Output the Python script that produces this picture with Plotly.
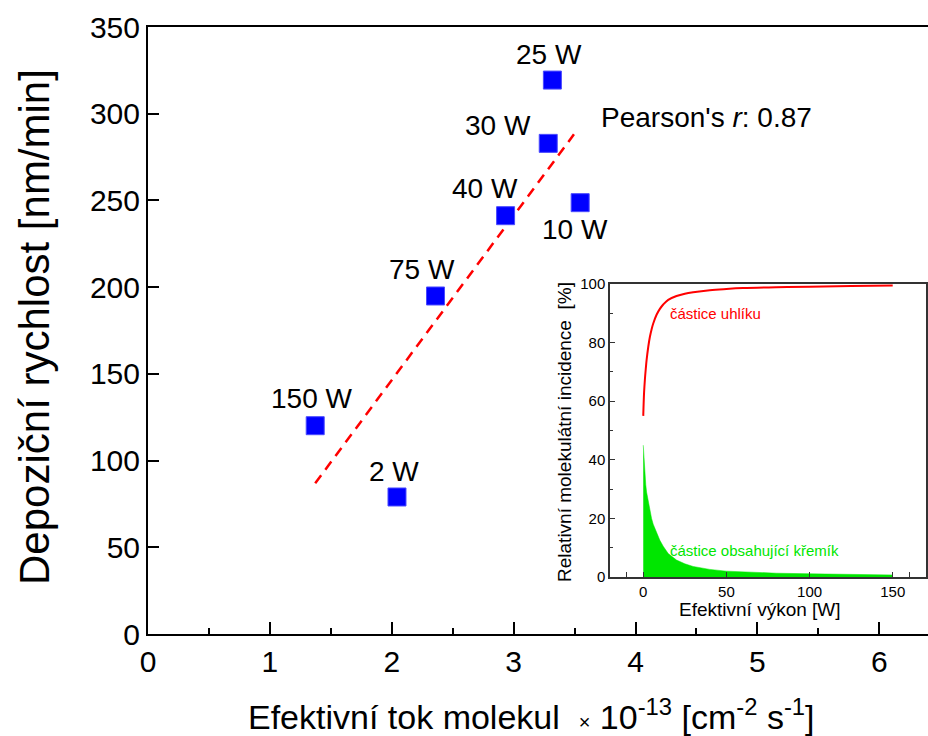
import plotly.graph_objects as go

# ---- main scatter data ----
power_labels = ["25 W", "30 W", "40 W", "10 W", "75 W", "150 W", "2 W"]
flux = [3.318, 3.284, 2.934, 3.546, 2.359, 1.372, 2.043]
rate = [319.4, 282.9, 241.2, 248.7, 194.9, 120.1, 79.0]
label_dx = [-3, -50, -21, -5, -14, -4, -3]
label_dy = [26, 18, 27, -27, 26, 27, 25]

fit_x = [1.372, 3.495]
fit_y = [86.9, 288.1]
pearson_r = 0.87

# ---- inset data ----
power_w = [0, 0.5, 1, 1.5, 2, 3, 4, 5, 6, 8, 10, 12, 15, 20, 25, 30, 40, 50, 60, 80, 100, 125, 150]
carbon = [55, 63, 67.5, 71, 74, 78.5, 82, 84.5, 86.5, 89.5, 91.5, 93, 94.6, 95.9, 96.7, 97.2, 97.9, 98.3, 98.6, 98.9, 99.1, 99.3, 99.5]
silicon = [45, 39, 35, 31.5, 29, 25.5, 22.5, 20, 18, 15, 12.5, 10.5, 8, 5.8, 4.5, 3.6, 2.6, 2.0, 1.7, 1.3, 1.1, 0.9, 0.7]
inset_major_ticks = [0, 50, 100, 150]
inset_minor_ticks = [-10, 160]

FONT = "Liberation Sans, Arial, sans-serif"

fig = go.Figure()

# fit line
fig.add_trace(go.Scatter(x=fit_x, y=fit_y, mode="lines",
                         line=dict(color="#ff0000", width=2.5, dash="10px,7px"),
                         hoverinfo="skip", showlegend=False))
# points
fig.add_trace(go.Scatter(x=flux, y=rate, mode="markers",
                         marker=dict(symbol="square", size=18, color="#0000ff",
                                     line=dict(color="#4a4aff", width=1)),
                         showlegend=False))

# inset traces
fig.add_trace(go.Scatter(x=power_w, y=silicon, mode="lines", fill="tozeroy",
                         line=dict(color="#00e600", width=0.5), fillcolor="#00e600",
                         xaxis="x2", yaxis="y2", showlegend=False))
fig.add_trace(go.Scatter(x=power_w, y=carbon, mode="lines",
                         line=dict(color="#ff0000", width=2, shape="spline"),
                         xaxis="x2", yaxis="y2", showlegend=False))

annotations = []
for lab, xv, yv, dx, dy in zip(power_labels, flux, rate, label_dx, label_dy):
    annotations.append(dict(x=xv, y=yv, xref="x", yref="y", text=lab, showarrow=False,
                            xanchor="center", yanchor="middle",
                            xshift=dx, yshift=dy, font=dict(size=28, color="black", family=FONT)))

annotations.append(dict(x=3.70, y=297.9, xref="x", yref="y", xanchor="left", yanchor="middle",
                        text=f"Pearson's <i>r</i>: {pearson_r:.2f}", showarrow=False,
                        font=dict(size=28, color="black", family=FONT)))

# axis titles
annotations.append(dict(x=0.4923, y=-0.1334, xref="paper", yref="paper",
                        xanchor="center", yanchor="middle",
                        text="Efektivní tok molekul  <span style='font-size:20px'>×</span> 10<sup>-13</sup> [cm<sup>-2</sup> s<sup>-1</sup>]",
                        showarrow=False, font=dict(size=34, color="black", family=FONT)))
annotations.append(dict(x=-0.1449, y=0.5058, xref="paper", yref="paper", textangle=-90,
                        xanchor="center", yanchor="middle",
                        text="Depoziční rychlost [nm/min]", showarrow=False,
                        font=dict(size=42, color="black", family=FONT)))
annotations.append(dict(x=0.7846, y=0.040, xref="paper", yref="paper",
                        xanchor="center", yanchor="middle",
                        text="Efektivní výkon [W]", showarrow=False,
                        font=dict(size=19, color="black", family=FONT)))
annotations.append(dict(x=0.5346, y=0.3328, xref="paper", yref="paper", textangle=-90,
                        xanchor="center", yanchor="middle",
                        text="Relativní molekulátní incidence  [%]", showarrow=False,
                        font=dict(size=19, color="black", family=FONT)))
annotations.append(dict(x=14.8, y=90.1, xref="x2", yref="y2", xanchor="left", yanchor="middle",
                        text="částice uhlíku", showarrow=False,
                        font=dict(size=15, color="#ff0000", family=FONT)))
annotations.append(dict(x=14.8, y=9.2, xref="x2", yref="y2", xanchor="left", yanchor="middle",
                        text="částice obsahující křemík", showarrow=False,
                        font=dict(size=15, color="#00e600", family=FONT)))

fig.update_layout(
    width=928, height=736,
    margin=dict(l=148, r=0, t=27, b=102),
    paper_bgcolor="white", plot_bgcolor="white",
    font=dict(family=FONT, color="black"),
    showlegend=False,
    annotations=annotations,
    xaxis=dict(range=[0, 6.4], dtick=1, ticks="inside", ticklen=12, tickwidth=2,
               tickcolor="black", showline=True, linewidth=2, linecolor="black",
               mirror=True, showgrid=False, zeroline=False,
               tickfont=dict(size=30, family=FONT, color="black"),
               minor=dict(dtick=0.5, ticks="inside", ticklen=6, tickwidth=2, tickcolor="black")),
    yaxis=dict(range=[0, 350], dtick=50, ticks="inside", ticklen=11, tickwidth=2,
               tickcolor="black", showline=True, linewidth=2, linecolor="black",
               showgrid=False, zeroline=False,
               tickfont=dict(size=30, family=FONT, color="black")),
    xaxis2=dict(domain=[0.5923, 0.9974], anchor="y2", range=[-20, 170],
                tickmode="array", tickvals=inset_major_ticks,
                ticks="inside", ticklen=5, tickwidth=1.2, tickcolor="#333",
                showline=True, linewidth=1.5, linecolor="#333", mirror=True,
                showgrid=False, zeroline=False,
                tickfont=dict(size=15, family=FONT, color="black"),
                minor=dict(tickmode="array", tickvals=inset_minor_ticks, ticks="inside",
                           ticklen=5, tickwidth=1.2, tickcolor="#333", showgrid=False)),
    yaxis2=dict(domain=[0.0939, 0.5766], anchor="x2", range=[0, 100], dtick=20,
                ticks="inside", ticklen=5, tickwidth=1.2, tickcolor="#333",
                showline=True, linewidth=1.5, linecolor="#333", mirror=True,
                showgrid=False, zeroline=False,
                tickfont=dict(size=15, family=FONT, color="black"),
                minor=dict(dtick=10, ticks="inside", ticklen=3, tickwidth=1.2, tickcolor="#333")),
)

fig.write_html("out.html", config={"displayModeBar": False},
               post_script="document.body.style.margin='0';document.body.style.overflow='hidden';")
